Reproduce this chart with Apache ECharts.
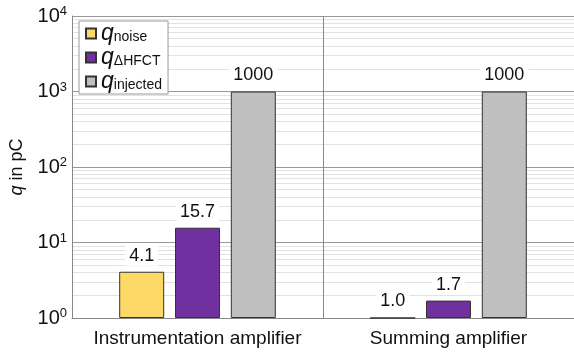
<!DOCTYPE html>
<html>
<head>
<meta charset="utf-8">
<script src="https://cdn.jsdelivr.net/npm/echarts@6/dist/echarts.min.js"></script>
<style>html,body{margin:0;padding:0;background:#fff}#c{width:574px;height:354px}</style>
</head>
<body>
<div id="c"></div>
<script>
const categories = ['Instrumentation amplifier', 'Summing amplifier'];
const qNoise = [4.1, 1.0];
const qDeltaHFCT = [15.7, 1.7];
const qInjected = [1000, 1000];
const labelNoise = ['4.1', '1.0'];
const labelHFCT = ['15.7', '1.7'];
const labelInjected = ['1000', '1000'];
const minorTicks = [2,3,4,5,6,7,8,9,20,30,40,50,60,70,80,90,200,300,400,500,600,700,800,900,2000,3000,4000,5000,6000,7000,8000,9000];

const FONT = '"Liberation Sans", Arial, sans-serif';
const chart = echarts.init(document.getElementById('c'), null, {renderer: 'canvas'});

function mkLabel(texts) {
  return {
    show: true, position: 'top', distance: 6,
    formatter: p => texts[p.dataIndex],
    color: '#111', fontFamily: FONT, fontSize: 18,
    backgroundColor: '#fff', padding: [1, 4]
  };
}
const subNames = {'noise': 'noise', 'hfct': 'ΔHFCT', 'inj': 'injected'};

chart.setOption({
  animation: false,
  textStyle: {fontFamily: FONT},
  grid: {left: 72, right: 0, top: 16, bottom: 36},
  legend: {
    orient: 'vertical', left: 79, top: 21,
    data: ['noise', 'hfct', 'inj'],
    icon: 'rect', itemWidth: 10, itemHeight: 10, itemGap: 1,
    borderColor: '#999', borderWidth: 1, backgroundColor: '#fff',
    padding: [1, 6, 1, 6],
    formatter: n => '{q|q}{s|' + subNames[n] + '}',
    textStyle: {
      color: '#111',
      rich: {
        q: {fontFamily: FONT, fontStyle: 'italic', fontSize: 23, lineHeight: 21, verticalAlign: 'middle'},
        s: {fontFamily: FONT, fontSize: 14, lineHeight: 14, verticalAlign: 'bottom'}
      }
    }
  },
  xAxis: {
    type: 'category', data: categories, z: 1,
    axisLine: {lineStyle: {color: '#888'}},
    axisTick: {show: false},
    axisLabel: {interval: 0, color: '#111', fontSize: 19, fontFamily: FONT, margin: 11},
    splitLine: {show: true, interval: 0, lineStyle: {color: '#888', width: 1}}
  },
  yAxis: {
    type: 'log', logBase: 10, min: 1, max: 10000, z: 1,
    name: '{i|q} in pC', nameLocation: 'middle', nameGap: 46, nameRotate: 90,
    nameTextStyle: {color: '#111', fontSize: 18, fontFamily: FONT,
      rich: {i: {fontStyle: 'italic', fontSize: 18, fontFamily: FONT}}},
    axisLine: {show: true, lineStyle: {color: '#888'}},
    axisTick: {show: false},
    axisLabel: {
      margin: 5,
      formatter: v => '{b|10}{s|' + Math.round(Math.log10(v)) + '}',
      rich: {
        b: {fontSize: 20, color: '#111', fontFamily: FONT, lineHeight: 20},
        s: {fontSize: 13, color: '#111', fontFamily: FONT, padding: [0, 0, 9, 0], lineHeight: 20}
      }
    },
    splitLine: {show: true, lineStyle: {color: '#999'}}
  },
  series: [
    {
      name: 'noise', type: 'bar', data: qNoise, barWidth: 45, barGap: '24%',
      itemStyle: {color: '#FFD966', borderColor: '#333', borderWidth: 1},
      label: mkLabel(labelNoise),
      markLine: {
        silent: true, symbol: 'none', z: 0,
        label: {show: false},
        lineStyle: {color: '#e2e2e2', type: 'solid', width: 1},
        data: minorTicks.map(v => ({yAxis: v}))
      }
    },
    {
      name: 'hfct', type: 'bar', data: qDeltaHFCT, barWidth: 45, barGap: '24%',
      itemStyle: {color: '#7030A0', borderColor: '#333', borderWidth: 1},
      label: mkLabel(labelHFCT)
    },
    {
      name: 'inj', type: 'bar', data: qInjected, barWidth: 45, barGap: '24%',
      itemStyle: {color: '#BFBFBF', borderColor: '#333', borderWidth: 1},
      label: mkLabel(labelInjected)
    }
  ]
});
</script>
</body>
</html>
